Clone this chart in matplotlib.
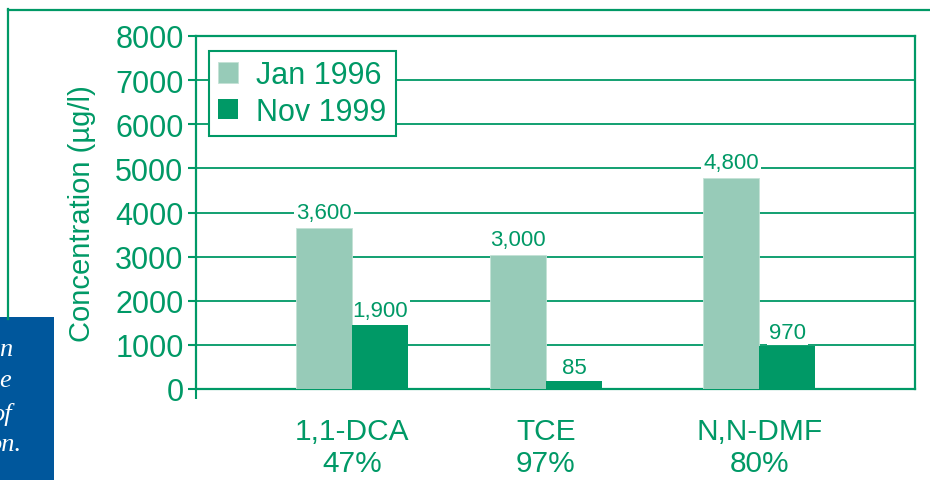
import matplotlib.pyplot as plt
from matplotlib.lines import Line2D
from matplotlib.patches import Rectangle

# data
categories = ['1,1-DCA\n47%', 'TCE\n97%', 'N,N-DMF\n80%']
jan_1996 = [3650, 3040, 4790]
nov_1999 = [1460, 180, 970]
jan_labels = ['3,600', '3,000', '4,800']
nov_labels = ['1,900', '85', '970']
yticks = [0, 1000, 2000, 3000, 4000, 5000, 6000, 7000, 8000]

GREEN = '#009966'
LIGHT = '#97cbb8'
BLUE = '#00579c'

plt.rcParams['font.family'] = ['Liberation Sans', 'DejaVu Sans']

fig = plt.figure(figsize=(9.3, 4.81), dpi=100)
ax = fig.add_axes([196 / 930, 91 / 481, 719 / 930, 353 / 481])

# group centres (not evenly spaced in the original)
pos = [1.0, 2.0, 3.1]
w = 0.289
xl = (0.196, 3.902)

ax.bar([p - w / 2 for p in pos], jan_1996, width=w, color=LIGHT,
       edgecolor='#c4e2d6', linewidth=0.6, label='Jan 1996', zorder=3)
ax.bar([p + w / 2 for p in pos], nov_1999, width=w, color=GREEN,
       linewidth=0, label='Nov 1999', zorder=3)

# value labels sit in a white box that breaks the gridlines
for p, v, t in zip(pos, jan_1996, jan_labels):
    ax.annotate(t, (p - w / 2, v), xytext=(0, 11), textcoords='offset points',
                ha='center', va='center', fontsize=16, color=GREEN, zorder=2.5,
                bbox=dict(boxstyle='square,pad=0.1', fc='white', ec='none'))
for p, v, t in zip(pos, nov_1999, nov_labels):
    ax.annotate(t, (p + w / 2, v), xytext=(0, 10), textcoords='offset points',
                ha='center', va='center', fontsize=16, color=GREEN, zorder=2.5,
                bbox=dict(boxstyle='square,pad=0.1', fc='white', ec='none'))

ax.set_xlim(*xl)
ax.set_ylim(0, 8000)
ax.set_yticks(yticks)
ax.set_yticklabels([str(t) for t in yticks])
ax.tick_params(axis='y', colors=GREEN, labelcolor=GREEN, labelsize=22,
               length=6, width=1.5, pad=3)

ax.set_xticks(pos)
ax.set_xticklabels(categories, linespacing=1.2)
ax.tick_params(axis='x', which='major', length=0, pad=20, labelsize=21.5,
               labelcolor=GREEN)
ax.set_xticks([xl[0]], minor=True)
ax.tick_params(axis='x', which='minor', length=7, width=1.5, color=GREEN)

ax.grid(axis='y', color=GREEN, linewidth=1.3, zorder=0)
ax.set_axisbelow(True)
for s in ax.spines.values():
    s.set_color(GREEN)
    s.set_linewidth(1.6)

ax.set_ylabel('Concentration (\u00b5g/l)', color=GREEN, fontsize=21, labelpad=14)

leg = ax.legend(loc='upper left', bbox_to_anchor=(0.018, 0.9575), borderaxespad=0,
                fontsize=22, frameon=True, fancybox=False, framealpha=1,
                handlelength=0.65, handleheight=0.65, handletextpad=0.6,
                labelspacing=0.22, borderpad=0.3)
leg.get_frame().set_edgecolor(GREEN)
leg.get_frame().set_linewidth(1.5)
for txt in leg.get_texts():
    txt.set_color(GREEN)
leg.set_zorder(5)

# page decoration: green frame and cut-off blue side box
fig.add_artist(Line2D([8 / 930, 8 / 930], [1 - 10 / 481, 1 - 320 / 481],
                      color=GREEN, linewidth=1.6, transform=fig.transFigure))
fig.add_artist(Line2D([8 / 930, 1.0], [1 - 10.5 / 481, 1 - 10.5 / 481],
                      color=GREEN, linewidth=1.6, transform=fig.transFigure))
fig.add_artist(Rectangle((0, 0), 54 / 930, 163 / 481, facecolor=BLUE,
                         edgecolor='none', transform=fig.transFigure))
side = [('n', 12, 350), ('e', 11, 381), ('of', 12, 414), ('on.', 21, 445)]
for t, xr, yc in side:
    fig.text(xr / 930, 1 - yc / 481, t, ha='right', va='center', color='white',
             fontsize=19, style='italic', family='Liberation Serif')

fig.savefig('out.png', dpi=100)
